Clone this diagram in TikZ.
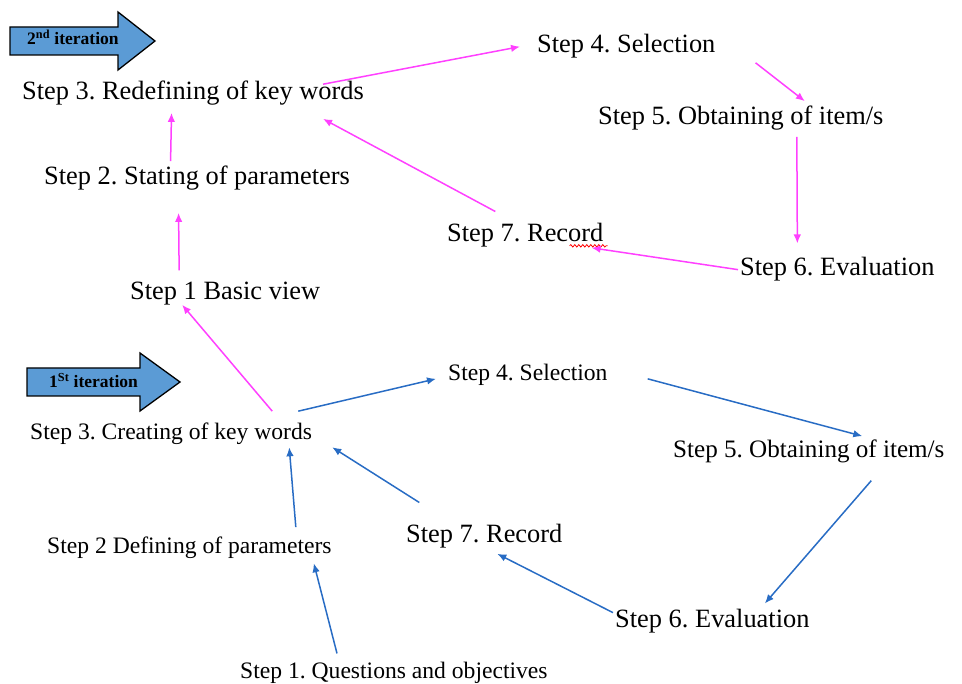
\documentclass[tikz,border=0pt]{standalone}
\usepackage{fontspec}
\setmainfont{Liberation Serif}
\usepackage{tikz}
\usetikzlibrary{calc, arrows, arrows.meta, decorations.pathmorphing}
\definecolor{pinkc}{RGB}{255,64,255}
\definecolor{bluec}{RGB}{40,108,196}
\definecolor{iterfill}{RGB}{91,155,213}
\tikzstyle{stepbig}=[inner sep=0pt, anchor=base west, font=\fontsize{26.4}{30}\selectfont]
\tikzstyle{stepmid}=[inner sep=0pt, anchor=base west, font=\fontsize{25.1}{29}\selectfont]
\tikzstyle{stepsmall}=[inner sep=0pt, anchor=base west, font=\fontsize{23.6}{27}\selectfont]
\tikzstyle{pinkarrow}=[->, draw=pinkc, line width=1.5pt]
\tikzstyle{bluearrow}=[->, draw=bluec, line width=1.5pt]
\tikzstyle{iterarrow}=[draw=black, fill=iterfill, line width=1.3pt, line join=miter]
\tikzstyle{itertext}=[inner sep=0pt, anchor=base west, font=\fontsize{17.5}{20}\selectfont\bfseries]
\frenchspacing

\begin{document}
\begin{tikzpicture}[x=1pt,y=-1pt,>={Latex[length=9pt,width=7.5pt]}]
      \useasboundingbox (0,0) rectangle (962,684);
      \draw[iterarrow] (10,27) -- (118,27) -- (118,12) -- (155,41) -- (118,70) -- (118,55) -- (10,55) -- cycle;
      \node [itertext] (it2) at (27,45) {2\textsuperscript{nd} iteration};
      \draw[iterarrow] (27,368) -- (140,368) -- (140,353) -- (180,382) -- (140,411) -- (140,396) -- (27,396) -- cycle;
      \node [itertext] (it1) at (49,388) {1\textsuperscript{St} iteration};

      \node [stepbig] (r3) at (22,100) {Step 3. Redefining of key words};
      \node [stepbig] (s2t) at (44,185) {Step 2. Stating of parameters};
      \node [stepbig] (s1t) at (130,300) {Step 1 Basic view};
      \node [stepbig] (s4t) at (537,53) {Step 4. Selection};
      \node [stepbig] (s5t) at (598,125) {Step 5. Obtaining of item/s};
      \node [stepbig] (s7t) at (447,242) {Step 7. Record};
      \node [stepbig] (s6t) at (740,276) {Step 6. Evaluation};

      \node [stepsmall] (c3) at (30,440) {Step 3. Creating of key words};
      \node [stepsmall] (d2) at (47,554) {Step 2 Defining of parameters};
      \node [stepsmall] (q1) at (240,678) {Step 1. Questions and objectives};
      \node [stepsmall] (s4b) at (448,381) {Step 4. Selection};
      \node [stepmid] (s5b) at (673,458) {Step 5. Obtaining of item/s};
      \node [stepbig] (s7b) at (406,543) {Step 7. Record};
      \node [stepbig] (s6b) at (615,627) {Step 6. Evaluation};

      \draw[red, line width=0.8pt, decorate, decoration={snake, amplitude=1.2pt, segment length=4pt}]
        ([xshift=-34pt,yshift=2pt]s7t.south east) -- ([xshift=4pt,yshift=2pt]s7t.south east);

      \draw[pinkarrow] ([xshift=-41pt,yshift=-3pt]r3.north east) -- ([xshift=-17pt]s4t.west);
      \draw[pinkarrow] ([xshift=40pt,yshift=-4pt]s4t.south east) -- ([xshift=64pt,yshift=5pt]s5t.north);
      \draw[pinkarrow] ([xshift=56pt,yshift=-6pt]s5t.south) -- ([xshift=-40pt,yshift=14pt]s6t.north);
      \draw[pinkarrow] ([xshift=-2pt]s6t.west) -- ([xshift=-12pt]s7t.south east);
      \draw[pinkarrow] ([xshift=-30pt,yshift=12pt]s7t.north) -- ([xshift=-41pt,yshift=-13pt]r3.south east);
      \draw[pinkarrow] ([xshift=-26.5pt,yshift=5pt]s2t.north) -- ([xshift=-21.5pt,yshift=-7pt]r3.south);
      \draw[pinkarrow] ([xshift=-46pt,yshift=12pt]s1t.north) -- ([xshift=-18.5pt,yshift=-22pt]s2t.south);
      \draw[pinkarrow] ([xshift=-40pt,yshift=12pt]c3.north east) -- ([xshift=-43pt,yshift=1pt]s1t.south);

      \draw[bluearrow] ([xshift=-14pt,yshift=12pt]c3.north east) -- ([xshift=-12pt,yshift=-3.5pt]s4b.west);
      \draw[bluearrow] ([xshift=40pt,yshift=-3.5pt]s4b.east) -- ([xshift=53.5pt,yshift=4pt]s5b.north);
      \draw[bluearrow] ([xshift=62.5pt,yshift=-17pt]s5b.south) -- ([xshift=52.5pt,yshift=5pt]s6b.north);
      \draw[bluearrow] ([xshift=-2pt,yshift=8pt]s6b.west) -- ([xshift=13pt,yshift=-5pt]s7b.south);
      \draw[bluearrow] ([xshift=-65pt,yshift=22pt]s7b.north) -- ([xshift=20pt,yshift=-2pt]c3.south east);
      \draw[bluearrow] ([xshift=-36pt,yshift=10pt]d2.north east) -- ([xshift=-23pt,yshift=-2pt]c3.south east);
      \draw[bluearrow] ([xshift=97pt,yshift=8pt]q1.north west) -- ([xshift=-18pt,yshift=-4pt]d2.south east);
\end{tikzpicture}
\end{document}
